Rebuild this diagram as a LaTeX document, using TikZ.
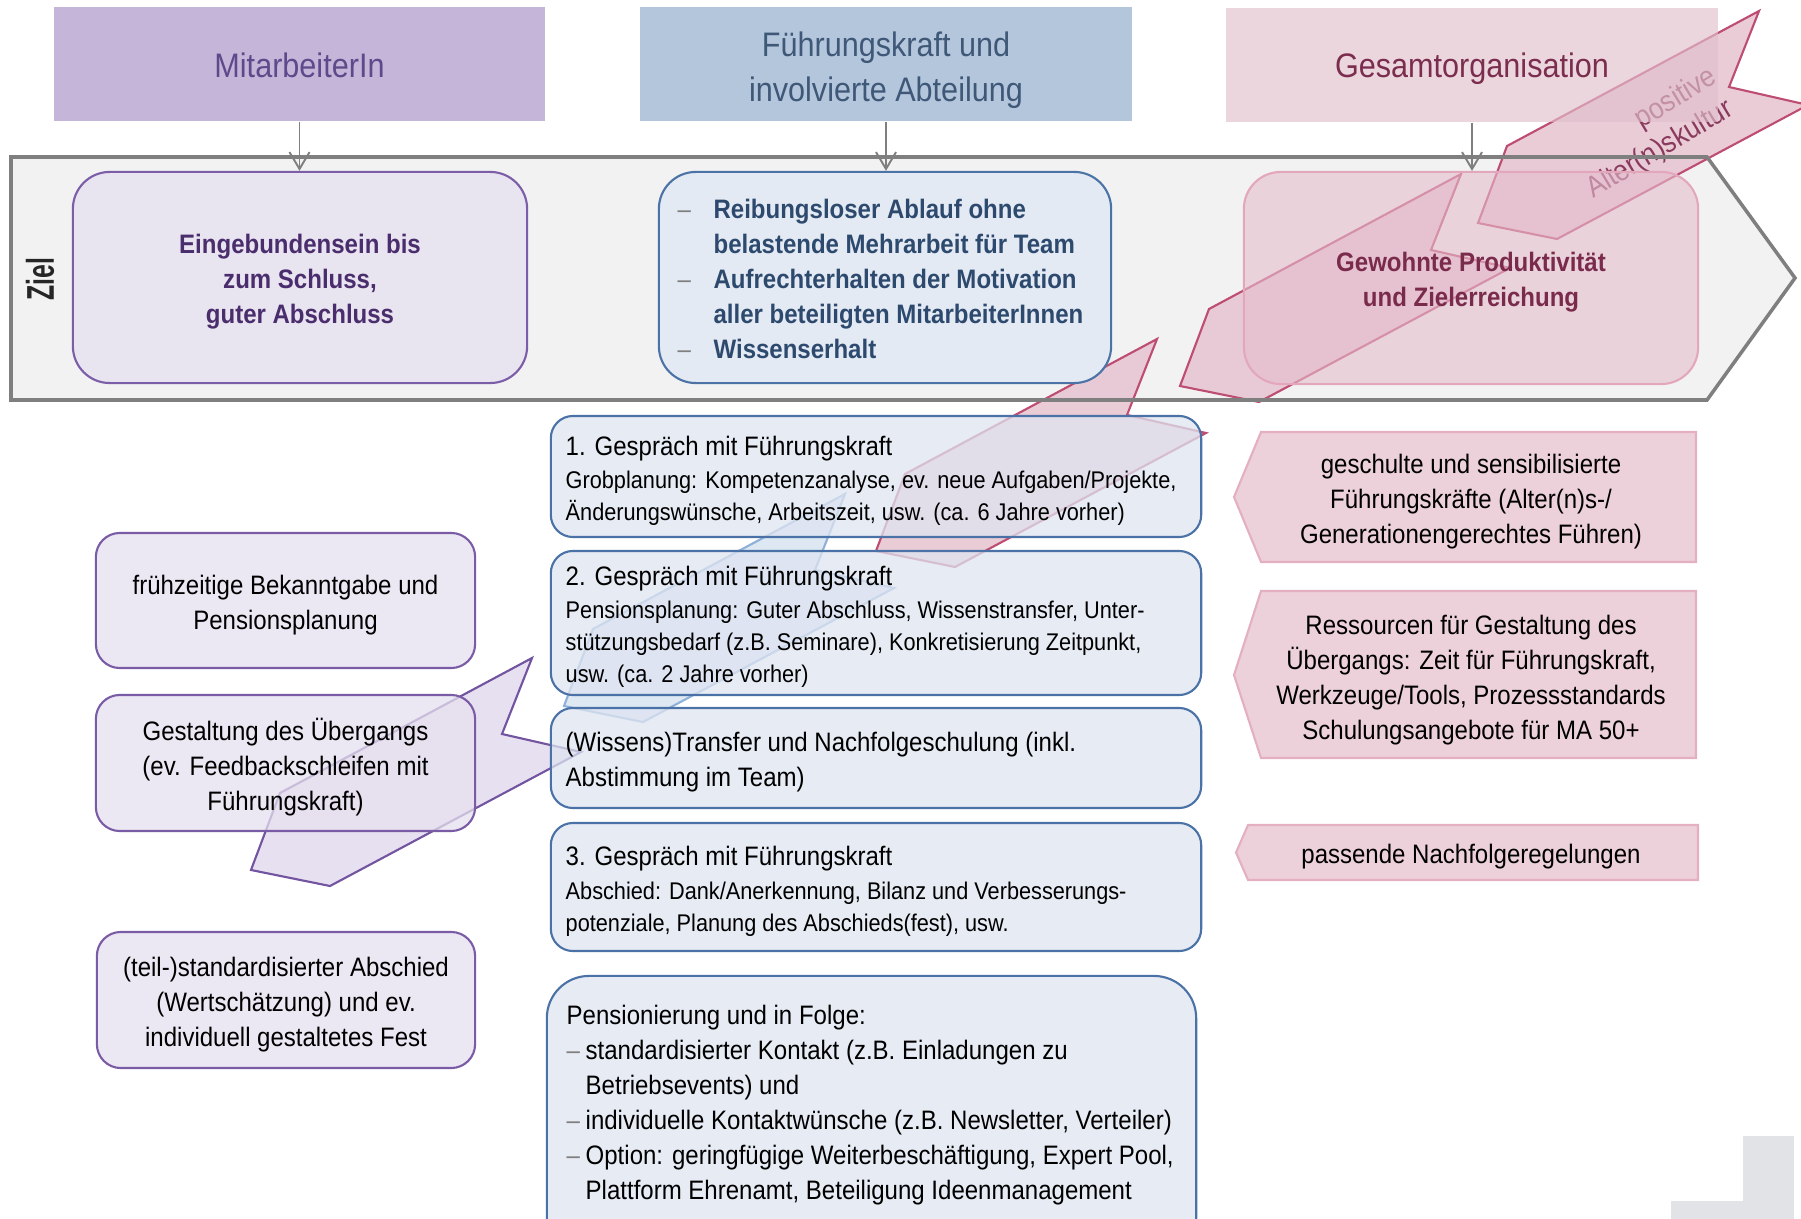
\documentclass[tikz,border=0pt]{standalone}
\usepackage{fontspec}
\setmainfont{Liberation Sans}[FakeStretch=0.9]
\newfontfamily\zielfont{Liberation Sans}[FakeStretch=0.64]
\usetikzlibrary{arrows.meta}

\definecolor{framefill}{HTML}{F2F2F2}
\definecolor{framestroke}{HTML}{7F7F7F}
\definecolor{conngray}{HTML}{7F7F7F}
\definecolor{mitfill}{HTML}{C5B5D9}
\definecolor{mittext}{HTML}{5E4A8B}
\definecolor{fuefill}{HTML}{B4C6DC}
\definecolor{fuetext}{HTML}{3F5878}
\definecolor{gesfill}{HTML}{E2C0CC}
\definecolor{gestext}{HTML}{7B2D4E}
\definecolor{einfill}{HTML}{E8E4F0}
\definecolor{einstroke}{HTML}{7B5DA8}
\definecolor{eintext}{HTML}{4A2D6D}
\definecolor{reibfill}{HTML}{E3EAF3}
\definecolor{reibstroke}{HTML}{4B73A6}
\definecolor{reibtext}{HTML}{2D4A6E}
\definecolor{gewfill}{HTML}{E5BECD}
\definecolor{gewstroke}{HTML}{E3A7BB}
\definecolor{gewtext}{HTML}{7A2B4B}
\definecolor{midfill}{HTML}{DEE4F0}
\definecolor{midstroke}{HTML}{4A72A6}
\definecolor{leftfill}{HTML}{E6E0EF}
\definecolor{leftstroke}{HTML}{7A5BA6}
\definecolor{rfill}{HTML}{ECD0DA}
\definecolor{rstroke}{HTML}{E3AFC1}
\definecolor{pinkfill}{HTML}{E8C6D3}
\definecolor{pinkstroke}{HTML}{BE4D72}
\definecolor{bluefill}{HTML}{D6E2F0}
\definecolor{bluestroke}{HTML}{8FB1D9}
\definecolor{purpfill}{HTML}{E4DDEF}
\definecolor{purpstroke}{HTML}{7254A0}
\definecolor{rottext}{HTML}{8A3A5C}
\definecolor{dashgray}{HTML}{7F7F7F}
\definecolor{lgray}{HTML}{E1E3E6}

\newcommand\fsbody{\fontsize{7.59pt}{9.96pt}\selectfont}
\newcommand\fssmall{\fontsize{6.86pt}{9.1pt}\selectfont}
\newcommand\fshead{\fontsize{9.67pt}{12.8pt}\selectfont}
\newcommand\fsrot{\fontsize{8.37pt}{10pt}\selectfont}

\tikzset{
  bigarrow/.pic={\path[pic actions] (-252,135) -- (0,0) -- (-30,76) -- (49,94) -- (-202,228) -- (-281,212) -- cycle;},
  box/.style={rectangle, inner sep=0pt},
  txt/.style={inner sep=0pt, execute at begin node=\strut, execute at end node=\strut},
  ctext/.style={txt, align=center},
  ltext/.style={txt, align=left, anchor=west, text=black},
  hdr/.style={box},
  zbox/.style={box, rounded corners=10.5pt, line width=0.6pt},
  midbox/.style={box, rounded corners=6.3pt, draw=midstroke, fill=midfill, fill opacity=0.75, line width=0.6pt},
  leftbox/.style={box, rounded corners=6.8pt, draw=leftstroke, fill=leftfill, fill opacity=0.75, line width=0.6pt},
  rshape/.style={draw=rstroke, fill=rfill, line width=0.6pt},
  pinkarrow/.style={draw=pinkstroke, fill=pinkfill, fill opacity=0.9, line width=0.6pt},
  bluearrow/.style={draw=bluestroke, fill=bluefill, fill opacity=0.8, line width=0.6pt},
  purparrow/.style={draw=purpstroke, fill=purpfill, fill opacity=0.9, line width=0.6pt},
  rot/.style={rotate=31, inner sep=0pt, font=\fsrot, text=rottext},
  conn/.style={draw=conngray, line width=0.55pt, -{Straight Barb[length=4.8pt,width=5.7pt]}}
}

\begin{document}
\begin{tikzpicture}[x=0.01cm,y=-0.01cm]
\useasboundingbox (0,0) rectangle (1801,1219);
\clip (0,0) rectangle (1801,1219);

% Ziel frame (fill)
\fill[framefill] (11,157) -- (1707,157) -- (1795,278) -- (1707,400) -- (11,400) -- cycle;

% decorative arrows
\pic[purparrow] at (532,658) {bigarrow};
\pic[bluearrow] at (845,494) {bigarrow};
\pic[pinkarrow] at (1157,339) {bigarrow};
\pic[pinkarrow] at (1461,174) {bigarrow};
\pic[pinkarrow] at (1759,11) {bigarrow};
\node[rot] (pos) at (1676,99) {positive};
\node[rot] (alt) at (1660,150) {Alter(n)skultur};

% headers
\node[hdr, fill=mitfill, minimum width=4.91cm, minimum height=1.14cm] (mit) at (299.5,64) {};
\node[ctext, font=\fshead, text=mittext] (mitt) at (299.5,68.5) {MitarbeiterIn};
\node[hdr, fill=fuefill, minimum width=4.92cm, minimum height=1.14cm] (fue) at (886,64) {};
\node[ctext, font=\fshead, text=fuetext] (fuet) at (886,73.5) {Führungskraft und\\involvierte Abteilung};
\node[hdr, fill=gesfill, fill opacity=0.65, minimum width=4.92cm, minimum height=1.14cm] (ges) at (1472,65) {};
\node[ctext, font=\fshead, text=gestext] (gest) at (1472,68.5) {Gesamtorganisation};

% Ziel label
\node[rotate=90, inner sep=0pt, font=\zielfont\bfseries\fontsize{11pt}{13pt}\selectfont, text=black!85] (ziel) at (40,279) {Ziel};

% Ziel boxes
\node[zbox, fill=einfill, draw=einstroke, minimum width=4.54cm, minimum height=2.11cm] (ein) at (300,277.5) {};
\node[ctext, font=\bfseries\fsbody, text=eintext] (eint) at (300,284) {Eingebundensein bis\\zum Schluss,\\guter Abschluss};
\node[zbox, fill=reibfill, draw=reibstroke, minimum width=4.52cm, minimum height=2.11cm] (reib) at (885,277.5) {};
\node[ltext, font=\bfseries\fsbody, text=reibtext] (reibt) at (677,284.5) {%
\makebox[10.2pt][l]{\mdseries\textcolor{dashgray}{–}}Reibungsloser Ablauf ohne\\
\hspace*{10.2pt}belastende Mehrarbeit für Team\\
\makebox[10.2pt][l]{\mdseries\textcolor{dashgray}{–}}Aufrechterhalten der Motivation\\
\hspace*{10.2pt}aller beteiligten MitarbeiterInnen\\
\makebox[10.2pt][l]{\mdseries\textcolor{dashgray}{–}}Wissenserhalt};
\node[zbox, fill=gewfill, fill opacity=0.6, draw=gewstroke, minimum width=4.54cm, minimum height=2.12cm] (gew) at (1471,278) {};
\node[ctext, font=\bfseries\fsbody, text=gewtext] (gewt) at (1471,285) {Gewohnte Produktivität\\und Zielerreichung};

% middle column
\node[midbox, minimum width=6.50cm, minimum height=1.21cm] (m1) at (876,476.5) {};
\node[ltext, font=\fsbody] (m1t) at (565,448.7) {1. Gespräch mit Führungskraft};
\node[ltext, font=\fssmall] (m1b) at (565,500.3) {Grobplanung: Kompetenzanalyse, ev. neue Aufgaben/Projekte,\\Änderungswünsche, Arbeitszeit, usw. (ca. 6 Jahre vorher)};

\node[midbox, minimum width=6.50cm, minimum height=1.44cm] (m2) at (876,623) {};
\node[ltext, font=\fsbody] (m2t) at (565,578.4) {2. Gespräch mit Führungskraft};
\node[ltext, font=\fssmall] (m2b) at (565,646.3) {Pensionsplanung: Guter Abschluss, Wissenstransfer, Unter-\\stützungsbedarf (z.B. Seminare), Konkretisierung Zeitpunkt,\\usw. (ca. 2 Jahre vorher)};

\node[midbox, minimum width=6.50cm, minimum height=1.00cm] (m3) at (876,758) {};
\node[ltext, font=\fsbody] (m3t) at (565,765) {(Wissens)Transfer und Nachfolgeschulung (inkl.\\Abstimmung im Team)};

\node[midbox, minimum width=6.50cm, minimum height=1.28cm] (m4) at (876,887) {};
\node[ltext, font=\fsbody] (m4t) at (565,858.7) {3. Gespräch mit Führungskraft};
\node[ltext, font=\fssmall] (m4b) at (565,911.5) {Abschied: Dank/Anerkennung, Bilanz und Verbesserungs-\\potenziale, Planung des Abschieds(fest), usw.};

\node[midbox, rounded corners=12pt, minimum width=6.49cm, minimum height=2.84cm] (m5) at (871.5,1118) {};
\node[ltext, font=\fsbody] (m5t) at (566,1108) {Pensionierung und in Folge:\\
\makebox[5.4pt][l]{\textcolor{dashgray}{–}}standardisierter Kontakt (z.B. Einladungen zu\\
\hspace*{5.4pt}Betriebsevents) und\\
\makebox[5.4pt][l]{\textcolor{dashgray}{–}}individuelle Kontaktwünsche (z.B. Newsletter, Verteiler)\\
\makebox[5.4pt][l]{\textcolor{dashgray}{–}}Option: geringfügige Weiterbeschäftigung, Expert Pool,\\
\hspace*{5.4pt}Plattform Ehrenamt, Beteiligung Ideenmanagement};

% left column
\node[leftbox, minimum width=3.79cm, minimum height=1.35cm] (l1) at (285.5,600.5) {};
\node[ctext, font=\fsbody] (l1t) at (285.5,607.7) {frühzeitige Bekanntgabe und\\Pensionsplanung};
\node[leftbox, minimum width=3.79cm, minimum height=1.36cm] (l2) at (285.5,763) {};
\node[ctext, font=\fsbody] (l2t) at (285.5,770) {Gestaltung des Übergangs\\(ev. Feedbackschleifen mit\\Führungskraft)};
\node[leftbox, minimum width=3.78cm, minimum height=1.36cm] (l3) at (286,1000) {};
\node[ctext, font=\fsbody] (l3t) at (286,1007) {(teil-)standardisierter Abschied\\(Wertschätzung) und ev.\\individuell gestaltetes Fest};

% right column
\draw[rshape] (1261,432) -- (1696,432) -- (1696,562) -- (1261,562) -- (1234,497) -- cycle;
\node[ctext, font=\fsbody] (r1) at (1471,504.3) {geschulte und sensibilisierte\\Führungskräfte (Alter(n)s-/\\Generationengerechtes Führen)};
\draw[rshape] (1261,591) -- (1696,591) -- (1696,758) -- (1261,758) -- (1234,675) -- cycle;
\node[ctext, font=\fsbody] (r2) at (1471,682.4) {Ressourcen für Gestaltung des\\Übergangs: Zeit für Führungskraft,\\Werkzeuge/Tools, Prozessstandards\\Schulungsangebote für MA 50+};
\draw[rshape] (1248,825) -- (1698,825) -- (1698,880) -- (1248,880) -- (1236,852.5) -- cycle;
\node[ctext, font=\fsbody] (r3) at (1471,856.4) {passende Nachfolgeregelungen};

% connectors
\draw[conn] (mit.south) -- (mit.south |- ein.north);
\draw[conn] (fue.south) -- (fue.south |- reib.north);
\draw[conn] (ges.south) -- (ges.south |- gew.north);

% Ziel frame outline
\draw[framestroke, line width=1pt] (11,157) -- (1707,157) -- (1795,278) -- (1707,400) -- (11,400) -- cycle;

% corner decoration
\fill[lgray] (1743,1136) rectangle (1794,1219);
\fill[lgray] (1671,1201) rectangle (1794,1219);
\end{tikzpicture}
\end{document}
